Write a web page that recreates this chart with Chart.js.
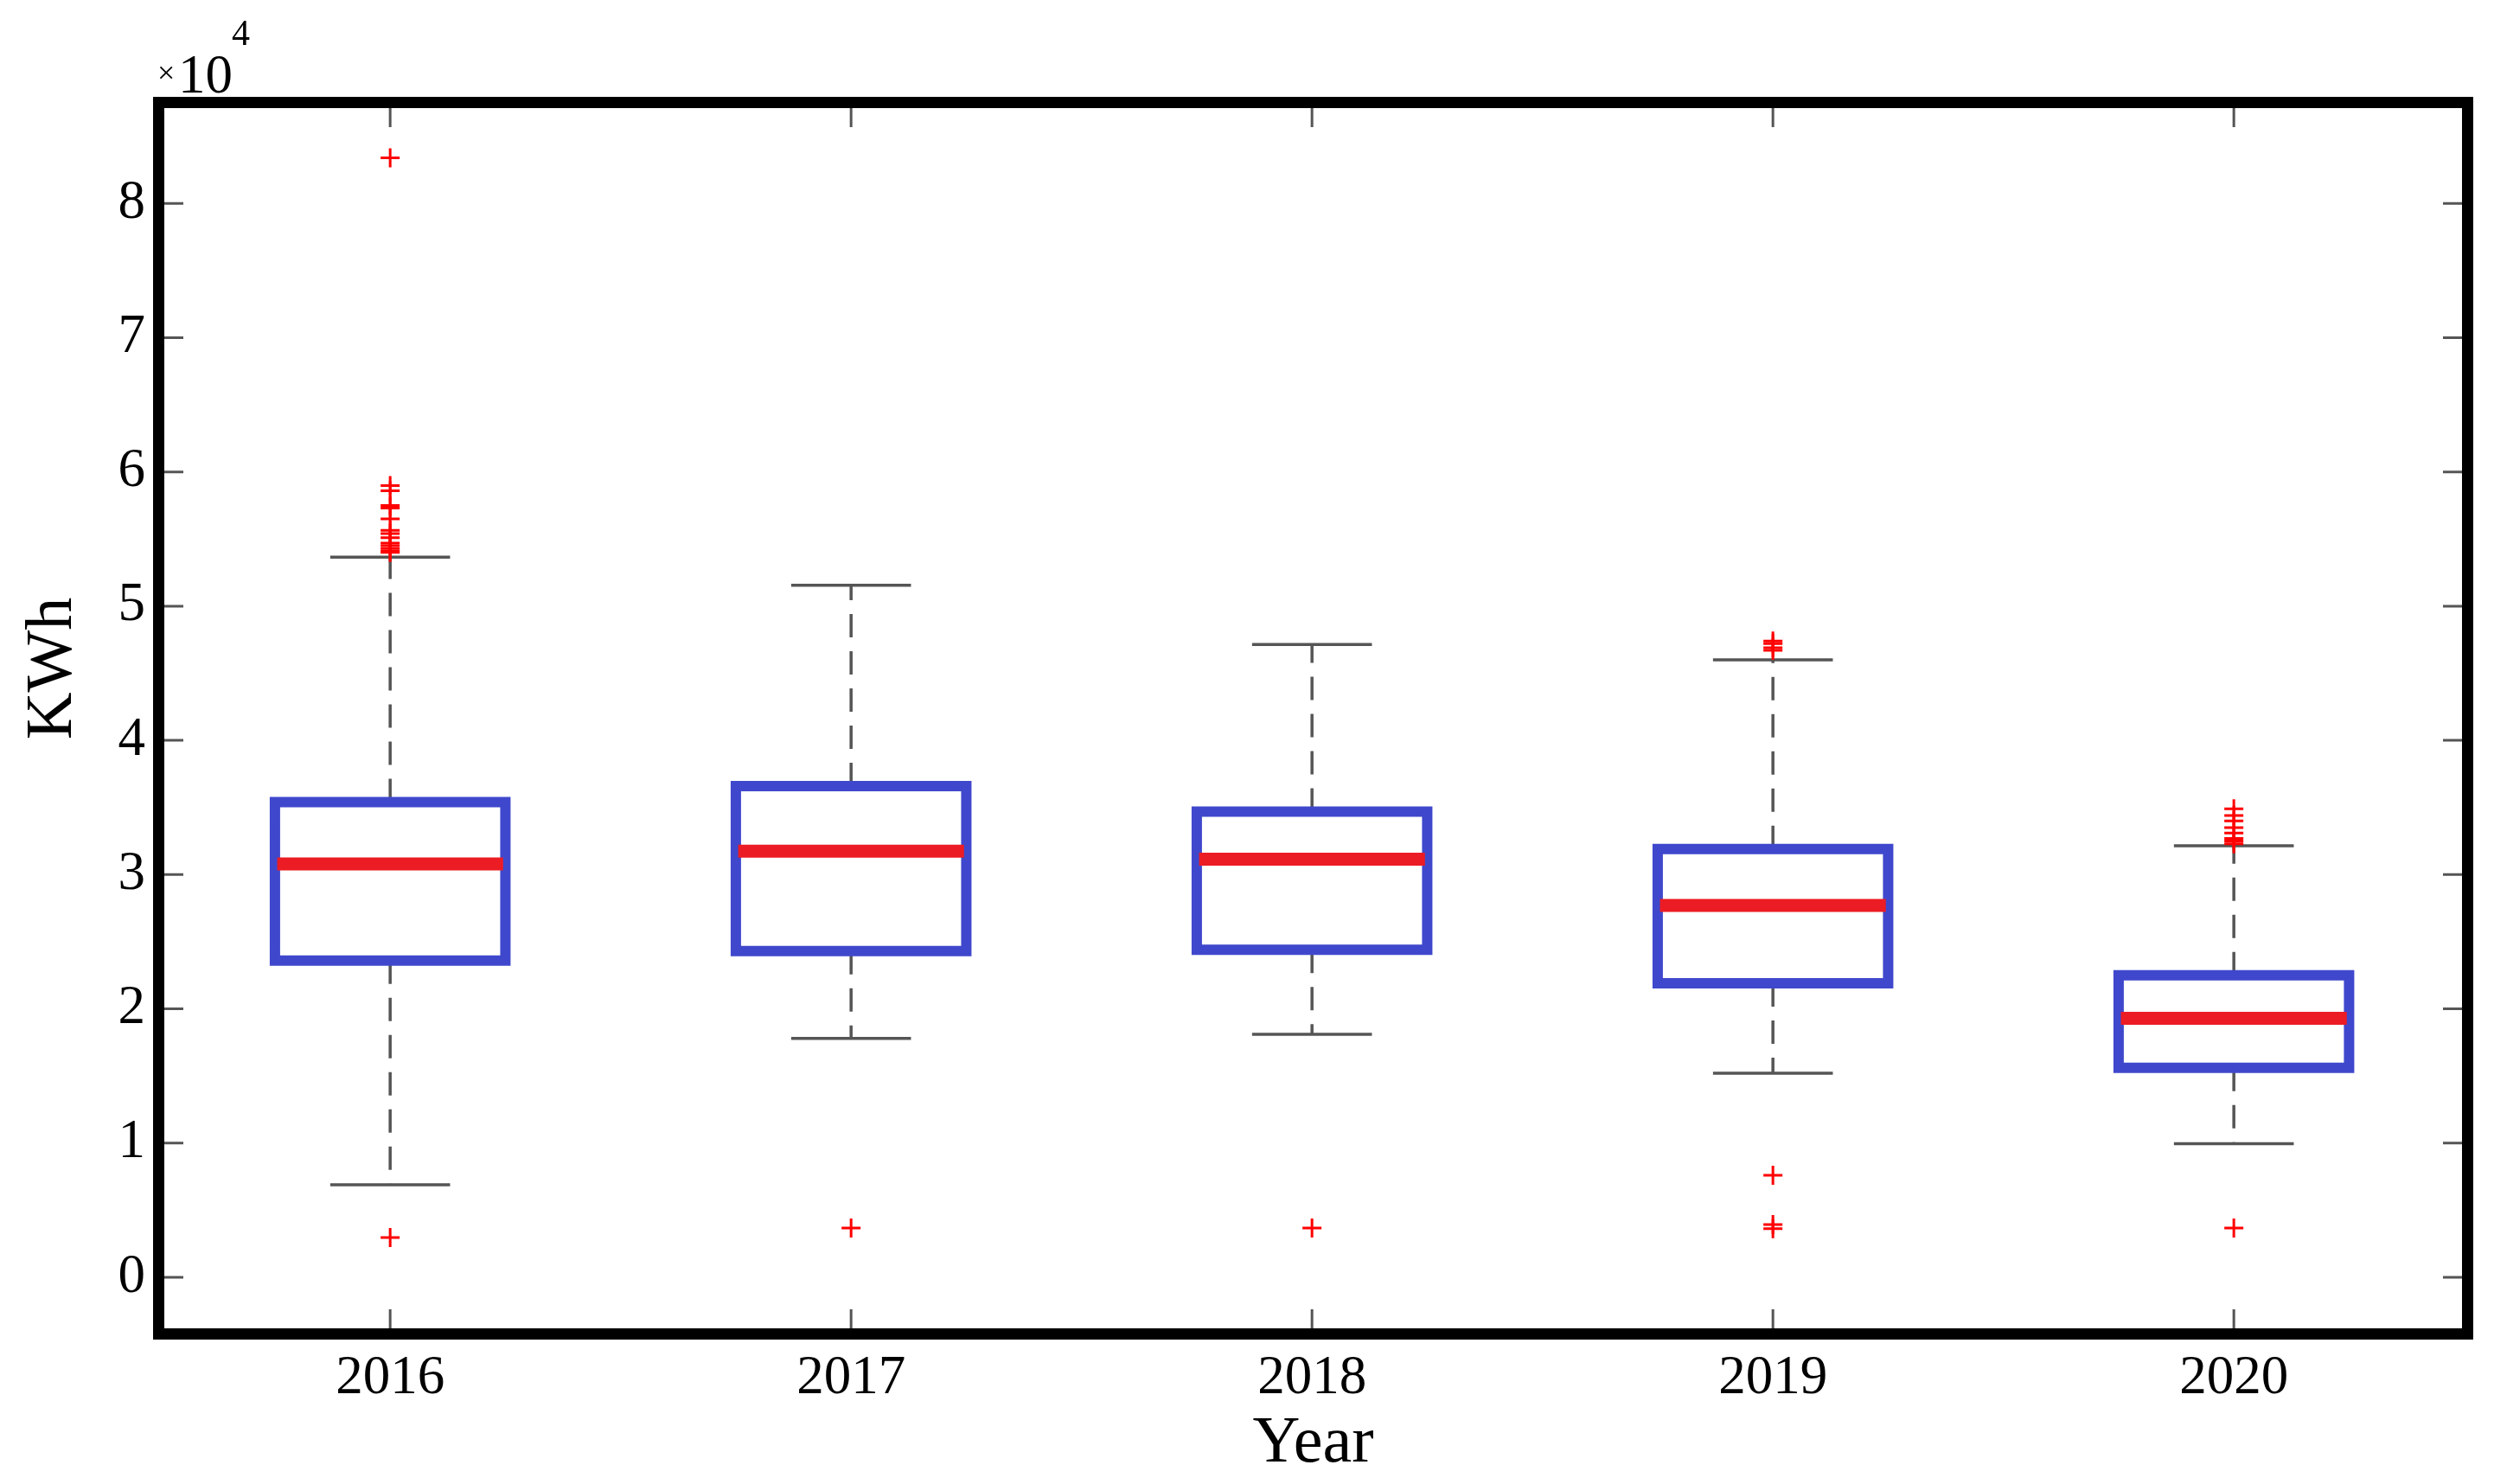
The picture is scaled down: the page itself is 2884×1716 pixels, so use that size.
<!DOCTYPE html>
<html>
<head>
<meta charset="utf-8">
<script src="https://cdn.jsdelivr.net/npm/chart.js@4"></script>
<style>
  body { margin: 0; background: #fff; }
  canvas { display: block; }
</style>
</head>
<body>
<canvas id="boxChart" width="2884" height="1716"></canvas>
<script>
// values in kWh (axis is x10^4)
var years = ["2016", "2017", "2018", "2019", "2020"];
var whiskerLow = [6900, 17800, 18100, 15200, 9950];
var q1 = [23600, 24300, 24400, 21900, 15600];
var medians = [30800, 31750, 31150, 27700, 19300];
var q3 = [35400, 36600, 34700, 31900, 22500];
var whiskerHigh = [53650, 51550, 47150, 46000, 32150];

var out2016 = [83400, 58980, 58600, 57500, 57300, 56500, 55650, 55400, 55100, 54700, 54500, 54300, 54100, 54000, 2960];
var out2017 = [3670];
var out2018 = [3670];
var out2019 = [47400, 47200, 46900, 46700, 7600, 3930, 3630];
var out2020 = [34900, 34400, 34000, 33500, 33100, 32700, 32500, 32300, 3670];
var outliers = [out2016, out2017, out2018, out2019, out2020];

var yTicks = [0, 10000, 20000, 30000, 40000, 50000, 60000, 70000, 80000];

var boxHalf = 0.25;
var medianHalf = 0.245;
var capHalf = 0.13;

// line segments, separated by null gaps
var whiskerData = [];
var capData = [];
var boxData = [];
var medianData = [];
years.forEach(function (y, i) {
    var x = i + 1;
    whiskerData.push({x: x, y: q3[i]}, {x: x, y: whiskerHigh[i]}, {x: x, y: null});
    whiskerData.push({x: x, y: q1[i]}, {x: x, y: whiskerLow[i]}, {x: x, y: null});
    capData.push({x: x - capHalf, y: whiskerHigh[i]}, {x: x + capHalf, y: whiskerHigh[i]}, {x: x, y: null});
    capData.push({x: x - capHalf, y: whiskerLow[i]}, {x: x + capHalf, y: whiskerLow[i]}, {x: x, y: null});
    // start mid-edge so every corner gets a proper join
    boxData.push({x: x, y: q1[i]}, {x: x + boxHalf, y: q1[i]}, {x: x + boxHalf, y: q3[i]},
        {x: x - boxHalf, y: q3[i]}, {x: x - boxHalf, y: q1[i]}, {x: x + 0.01, y: q1[i]}, {x: x, y: null});
    medianData.push({x: x - medianHalf, y: medians[i]}, {x: x + medianHalf, y: medians[i]}, {x: x, y: null});
});
var outlierData = outliers.flatMap(function (list, i) {
    return list.map(function (v) { return {x: i + 1, y: v}; });
});

var serif = "'Liberation Serif', 'DejaVu Serif', serif";

// frame, inward ticks, y label and the x10^4 note
var framePlugin = {
    id: "frame",
    afterDraw: function (chart) {
        var ctx = chart.ctx;
        var a = chart.chartArea;
        var xs = chart.scales.x, ys = chart.scales.y;
        ctx.save();
        ctx.strokeStyle = "#555";
        ctx.lineWidth = 3;
        ctx.beginPath();
        xs.ticks.forEach(function (t, i) {
            var px = xs.getPixelForTick(i);
            ctx.moveTo(px, a.bottom); ctx.lineTo(px, a.bottom - 22);
            ctx.moveTo(px, a.top); ctx.lineTo(px, a.top + 22);
        });
        ys.ticks.forEach(function (t, i) {
            var py = ys.getPixelForTick(i);
            ctx.moveTo(a.left, py); ctx.lineTo(a.left + 22, py);
            ctx.moveTo(a.right, py); ctx.lineTo(a.right - 22, py);
        });
        ctx.stroke();

        ctx.strokeStyle = "#000";
        ctx.lineWidth = 13;
        ctx.strokeRect(a.left - 6.5, a.top - 6.5, a.right - a.left + 13, a.bottom - a.top + 13);

        ctx.fillStyle = "#000";
        ctx.textAlign = "center";
        ctx.textBaseline = "middle";
        ctx.font = "76px " + serif;
        ctx.translate(62, 773);
        ctx.rotate(-Math.PI / 2);
        ctx.fillText("KWh", 0, 0);
        ctx.setTransform(1, 0, 0, 1, 0, 0);

        ctx.textAlign = "left";
        ctx.textBaseline = "alphabetic";
        ctx.font = "36px " + serif;
        ctx.fillText("\u00d7", 182, 96);
        ctx.font = "63px " + serif;
        ctx.fillText("10", 206, 107);
        ctx.font = "42px " + serif;
        ctx.fillText("4", 268, 52);
        ctx.restore();
    }
};

new Chart("boxChart", {
    type: "scatter",
    data: {
        datasets: [
            {
                label: "outliers",
                data: outlierData,
                pointStyle: "cross",
                pointRadius: 11,
                pointBorderWidth: 3,
                borderColor: "#ff0000",
                backgroundColor: "#ff0000",
                showLine: false
            },
            {
                label: "median",
                data: medianData,
                showLine: true,
                spanGaps: false,
                borderColor: "#ec1c24",
                borderWidth: 15,
                borderCapStyle: "butt",
                pointRadius: 0
            },
            {
                label: "box",
                data: boxData,
                showLine: true,
                spanGaps: false,
                borderColor: "#3f48cc",
                borderWidth: 12,
                borderJoinStyle: "miter",
                pointRadius: 0
            },
            {
                label: "caps",
                data: capData,
                showLine: true,
                spanGaps: false,
                borderColor: "#555",
                borderWidth: 3.5,
                pointRadius: 0
            },
            {
                label: "whiskers",
                data: whiskerData,
                showLine: true,
                spanGaps: false,
                borderColor: "#555",
                borderWidth: 3.5,
                borderDash: [27, 16],
                pointRadius: 0
            }
        ]
    },
    options: {
        responsive: false,
        animation: false,
        layout: { padding: { top: 125, right: 37, left: 0, bottom: 0 } },
        plugins: {
            legend: { display: false },
            tooltip: { enabled: false }
        },
        scales: {
            x: {
                type: "linear",
                min: 0.51,
                max: 5.495,
                afterBuildTicks: function (s) {
                    s.ticks = years.map(function (y, i) { return {value: i + 1}; });
                },
                afterFit: function (s) { s.height = 180; },
                grid: { display: false, drawTicks: false },
                border: { display: false },
                ticks: {
                    padding: 21,
                    color: "#000",
                    font: { family: serif, size: 63 },
                    callback: function (v) { return years[v - 1]; }
                },
                title: {
                    display: true,
                    text: "Year",
                    color: "#000",
                    font: { family: serif, size: 76 },
                    padding: { top: 0, bottom: 0 }
                }
            },
            y: {
                min: -3800,
                max: 87100,
                afterBuildTicks: function (s) {
                    s.ticks = yTicks.map(function (v) { return {value: v}; });
                },
                afterFit: function (s) { s.width = 190; },
                grid: { display: false, drawTicks: false },
                border: { display: false },
                ticks: {
                    padding: 22,
                    color: "#000",
                    font: { family: serif, size: 63 },
                    callback: function (v) { return String(v / 10000); }
                }
            }
        }
    },
    plugins: [framePlugin]
});
</script>
</body>
</html>
